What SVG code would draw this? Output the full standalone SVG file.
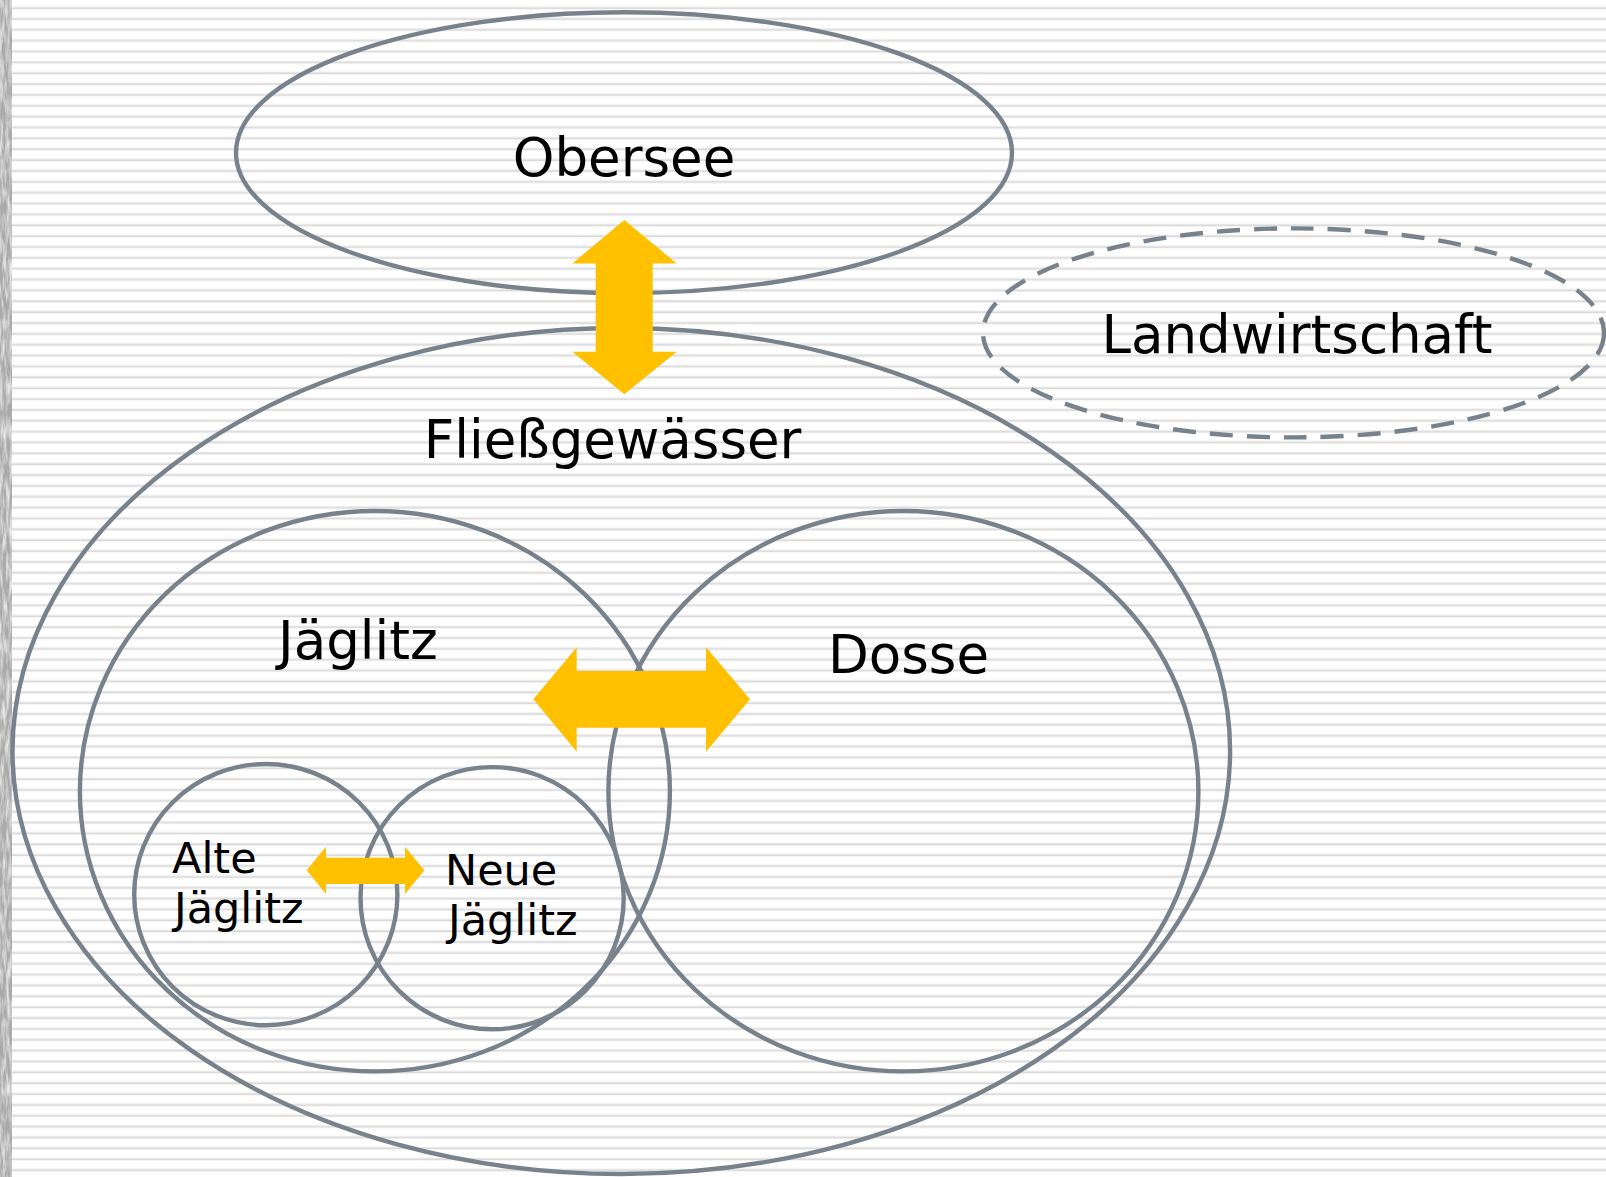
<svg xmlns="http://www.w3.org/2000/svg" width="1606" height="1177" viewBox="0 0 1606 1177">
  <defs>
    <pattern id="stripes" patternUnits="userSpaceOnUse" x="0" y="0" width="40" height="10.86">
      <rect x="0" y="0" width="40" height="10.86" fill="#ffffff"/>
      <rect x="0" y="6.6" width="40" height="1.2" fill="#e6e6e6"/>
      <rect x="0" y="7.8" width="40" height="1.3" fill="#d9d9d9"/>
    </pattern>
    <filter id="grain" x="0" y="0" width="12" height="1177" filterUnits="userSpaceOnUse">
      <feTurbulence type="fractalNoise" baseFrequency="0.3 0.05" numOctaves="3" seed="7" result="n"/>
      <feColorMatrix in="n" type="matrix" values="0 0 0 0 1  0 0 0 0 1  0 0 0 0 1  1.6 0 0 0 -0.55"/>
    </filter>
  </defs>
  <style>
    .ring { fill: none; stroke: #78828d; stroke-width: 4.4; }
    .dash { stroke-dasharray: 23 14; }
    .big { font-family: "DejaVu Sans", Verdana, sans-serif; font-size: 53px; fill: #000; text-anchor: middle; }
    .small { font-family: "DejaVu Sans", Verdana, sans-serif; font-size: 43px; fill: #000; }
    .arrow { fill: #ffc000; stroke: none; }
  </style>

  <rect x="0" y="0" width="1606" height="1177" fill="#ffffff"/>
  <rect x="12" y="0" width="1594" height="1177" fill="url(#stripes)"/>
  <rect x="0" y="0" width="12" height="1177" fill="#a9a9a9"/>
  <rect x="0" y="0" width="12" height="1177" fill="#ffffff" filter="url(#grain)"/>

  <g id="obersee">
    <ellipse class="ring" cx="624" cy="152.7" rx="388" ry="140.4"/>
    <text class="big" x="624" y="176">Obersee</text>
  </g>
  <g id="landwirtschaft">
    <ellipse class="ring dash" cx="1293.5" cy="332.9" rx="310.5" ry="104.5"/>
    <text class="big" x="1297" y="353">Landwirtschaft</text>
  </g>
  <g id="fliessgewaesser">
    <ellipse class="ring" cx="621.3" cy="751" rx="608.8" ry="423"/>
    <text class="big" x="612.6" y="458">Fließgewässer</text>
  </g>
  <g id="jaeglitz">
    <ellipse class="ring" cx="374.9" cy="791.2" rx="295" ry="280.2"/>
    <text class="big" x="358" y="658.5">Jäglitz</text>
  </g>
  <g id="dosse">
    <ellipse class="ring" cx="903.4" cy="791.2" rx="295" ry="280.2"/>
    <text class="big" x="908.5" y="673">Dosse</text>
  </g>
  <g id="alte-jaeglitz">
    <ellipse class="ring" cx="265.8" cy="894.6" rx="131.6" ry="130.6"/>
    <text class="small" x="172" y="872.7">Alte</text>
    <text class="small" x="174" y="923.3">Jäglitz</text>
  </g>
  <g id="neue-jaeglitz">
    <ellipse class="ring" cx="492.1" cy="898.2" rx="131.6" ry="131.1"/>
    <text class="small" x="445" y="885">Neue</text>
    <text class="small" x="448" y="935">Jäglitz</text>
  </g>

  <g id="connectors">
    <polygon class="arrow" points="624.3,220 676.7,263.5 652.7,263.5 652.7,351.7 676.7,351.7 624.3,394.3 572.3,351.7 595.7,351.7 595.7,263.5 572.3,263.5"/>
    <polygon class="arrow" points="533.3,699.3 576.7,647.3 576.7,671 706,671 706,647.3 750,699.3 706,751.7 706,727.7 576.7,727.7 576.7,751.7"/>
    <polygon class="arrow" points="306.7,870.3 326,846.7 326,857.7 405,857.7 405,846.7 424.3,870.3 405,894 405,884 326,884 326,894"/>
  </g>
</svg>
